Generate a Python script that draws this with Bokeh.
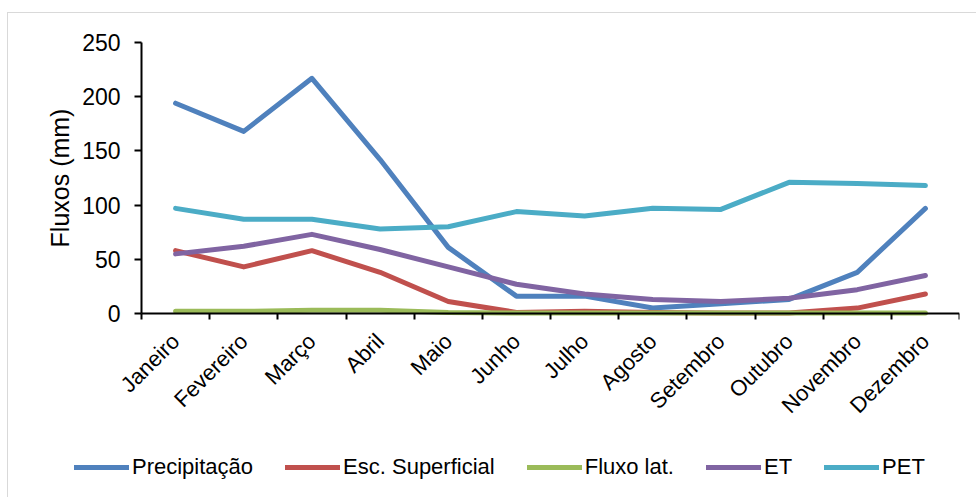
from bokeh.plotting import figure
from bokeh.models import FixedTicker, Legend, LegendItem, Range1d
from bokeh.core.properties import value
from bokeh.embed import file_html
from bokeh.resources import INLINE
import math

months = ["Janeiro", "Fevereiro", "Março", "Abril", "Maio", "Junho",
          "Julho", "Agosto", "Setembro", "Outubro", "Novembro", "Dezembro"]
precipitacao = [194, 168, 217, 142, 61, 16, 16, 5, 9, 13, 38, 97]
esc_superficial = [58, 43, 58, 38, 11, 1, 2, 1, 0.5, 0.5, 5, 18]
fluxo_lat = [2, 2, 3, 3, 1, 0.5, 0.5, 0.5, 0.5, 0.5, 0.5, 0.5]
et = [55, 62, 73, 59, 43, 27, 18, 13, 11, 14, 22, 35]
pet = [97, 87, 87, 78, 80, 94, 90, 97, 96, 121, 120, 118]
y_ticks = [0, 50, 100, 150, 200, 250]
y_label = "Fluxos (mm)"

series = [
    ("Precipitação", precipitacao, "#4F81BD"),
    ("Esc. Superficial", esc_superficial, "#C0504D"),
    ("Fluxo lat.", fluxo_lat, "#9BBB59"),
    ("ET", et, "#8064A2"),
    ("PET", pet, "#4BACC6"),
]

xs = list(range(1, len(months) + 1))
bounds = [i + 0.5 for i in range(0, len(months) + 1)]
x_lo, x_hi = bounds[0], bounds[-1]
y_lo, y_hi = y_ticks[0], y_ticks[-1]

FONT = "Liberation Sans"

# layout (pixels inside the figure)
BL, BT, BR = 30, 15, 18
FRAME_W, FRAME_H = 921, 470
AXIS_X_PX = 103          # y axis position from frame left
TOP_PAD_PX = 14          # space above the 250 line inside the frame
PLOT_H_PX = 271          # height of the 0..250 span
px_x = (FRAME_W - AXIS_X_PX) / (x_hi - x_lo)
px_y = PLOT_H_PX / (y_hi - y_lo)
x_range = Range1d(x_lo - AXIS_X_PX / px_x, x_hi)
y_range = Range1d(y_lo - (FRAME_H - TOP_PAD_PX - PLOT_H_PX) / px_y,
                  y_hi + TOP_PAD_PX / px_y)

p = figure(width=BL + FRAME_W + BR, height=BT + FRAME_H, output_backend="svg",
           toolbar_location=None, x_range=x_range, y_range=y_range,
           frame_width=FRAME_W, frame_height=FRAME_H,
           min_border_left=BL, min_border_top=BT, min_border_right=BR,
           min_border_bottom=0, x_axis_location="above", y_axis_location="left")
p.margin = (12, 0, 0, 7)
p.styles = {"border-top": "1px solid #d9d9d9", "border-left": "1px solid #d9d9d9"}
p.outline_line_color = None
p.background_fill_color = "white"
p.border_fill_color = "white"
p.xgrid.grid_line_color = None
p.ygrid.grid_line_color = None

items = []
for name, vals, color in series:
    r = p.line(xs, vals, line_color=color, line_width=5, line_cap="round", line_join="round")
    items.append(LegendItem(label=name, renderers=[r]))

# y axis (line + ticks), fixed at the first category boundary
p.yaxis.fixed_location = x_lo
p.yaxis.bounds = (y_lo, y_hi)
p.yaxis.ticker = FixedTicker(ticks=[], minor_ticks=y_ticks)
p.yaxis.axis_line_color = "black"
p.yaxis.axis_line_width = 2
p.yaxis.major_tick_line_color = None
p.yaxis.minor_tick_line_color = "black"
p.yaxis.minor_tick_line_width = 2
p.yaxis.minor_tick_out = 7
p.yaxis.minor_tick_in = 0
p.yaxis.major_label_standoff = 0

# x axis (line + boundary ticks), fixed at y = 0
p.xaxis.fixed_location = y_lo
p.xaxis.bounds = (x_lo, x_hi)
p.xaxis.ticker = FixedTicker(ticks=[], minor_ticks=bounds)
p.xaxis.axis_line_color = "black"
p.xaxis.axis_line_width = 2
p.xaxis.major_tick_line_color = None
p.xaxis.minor_tick_line_color = "black"
p.xaxis.minor_tick_line_width = 2
p.xaxis.minor_tick_out = 0
p.xaxis.minor_tick_in = 6
p.xaxis.major_label_standoff = 0

# y tick labels
p.text(x=[x_lo] * len(y_ticks), y=y_ticks, text=[str(t) for t in y_ticks],
       x_offset=-21, text_align="right", text_baseline="middle",
       text_font=value(FONT), text_font_size="23px", text_color="black")

# y axis title
p.text(x=[x_lo], y=[(y_lo + y_hi) / 2], text=[y_label], angle=math.pi / 2,
       x_offset=-82, text_align="center", text_baseline="middle",
       text_font=value(FONT), text_font_size="25px", text_color="black")

# month labels
p.text(x=xs, y=[y_lo] * len(xs), text=months, angle=math.pi / 4,
       x_offset=0, y_offset=24, text_align="right", text_baseline="middle",
       text_font=value(FONT), text_font_size="22px", text_color="black")

legend = Legend(items=items, orientation="horizontal", location=(36, 18),
                glyph_width=55, glyph_height=20, label_standoff=3, spacing=32,
                label_text_font=FONT, label_text_font_size="22px",
                label_text_color="black", border_line_color=None,
                background_fill_alpha=0, margin=0, padding=0)
p.add_layout(legend, "center")

open("out.html", "w").write(file_html(p, INLINE))
